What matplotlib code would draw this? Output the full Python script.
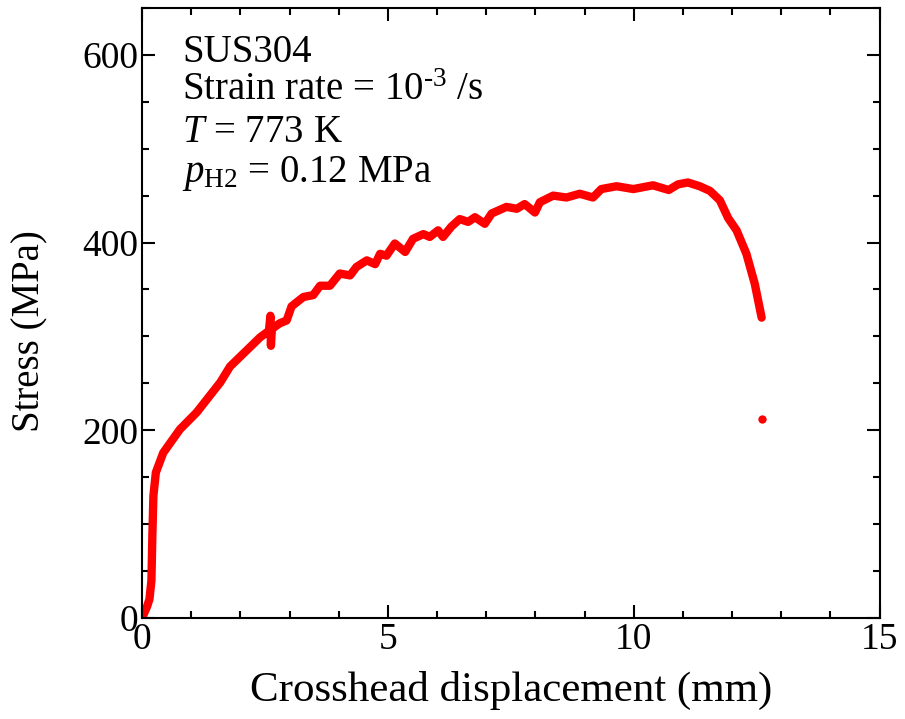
import matplotlib

matplotlib.use("Agg")
import matplotlib.pyplot as plt  # noqa: E402
from matplotlib.ticker import MultipleLocator  # noqa: E402

# stress-displacement readings (mm, MPa)
disp_mm = [0.00, 0.10, 0.15, 0.19, 0.21, 0.23, 0.28, 0.43, 0.77, 1.11, 1.59,
           1.79, 2.40, 2.58, 2.61, 2.62, 2.64, 2.80, 2.94, 3.04, 3.28, 3.48,
           3.62, 3.82, 4.02, 4.23, 4.36, 4.57, 4.74, 4.84, 4.97, 5.14, 5.35,
           5.51, 5.72, 5.85, 6.02, 6.12, 6.29, 6.46, 6.63, 6.77, 6.97, 7.11,
           7.41, 7.62, 7.78, 7.99, 8.09, 8.36, 8.63, 8.90, 9.17, 9.34, 9.65,
           9.99, 10.39, 10.71, 10.90, 11.10, 11.34, 11.55, 11.75, 11.92, 12.09,
           12.29, 12.46, 12.60]
stress_mpa = [0, 12, 20, 40, 90, 130, 155, 176, 201, 219, 251,
              268, 299, 306, 322, 290, 308, 314, 317, 332, 342, 344,
              354, 354, 367, 365, 374, 381, 377, 388, 386, 399, 390,
              404, 409, 406, 413, 406, 417, 425, 422, 427, 420, 431,
              438, 436, 441, 432, 443, 450, 448, 452, 448, 457, 460,
              457, 461, 456, 462, 464, 460, 455, 445, 426, 413,
              388, 356, 320]
# last stray point after fracture
stray_disp = [12.61]
stray_stress = [212]

info_lines = [
    "SUS304",
    r"Strain rate = 10$^{\text{-3}}$ /s",
    r"$T$ = 773 K",
    r"$p_{\rm H2}$ = 0.12 MPa",
]

plt.rcParams["font.family"] = "Liberation Serif"
plt.rcParams["mathtext.fontset"] = "custom"
plt.rcParams["mathtext.rm"] = "Liberation Serif"
plt.rcParams["mathtext.it"] = "Liberation Serif:italic"

fig = plt.figure(figsize=(9.05, 7.19), dpi=100)
ax = fig.add_axes([0.157, 0.1405, 0.815, 0.8485])

ax.plot(disp_mm, stress_mpa, color="red", linewidth=6.0,
        solid_capstyle="round", solid_joinstyle="round")
ax.plot(stray_disp, stray_stress, "o", color="red", markersize=6, markeredgewidth=0)

ax.set_xlim(0, 15)
ax.set_ylim(0, 650)
ax.xaxis.set_major_locator(MultipleLocator(5))
ax.xaxis.set_minor_locator(MultipleLocator(1))
ax.yaxis.set_major_locator(MultipleLocator(200))
ax.yaxis.set_minor_locator(MultipleLocator(50))
ax.tick_params(which="both", direction="in", top=True, right=True,
               width=1.5, labelsize=27, pad=3)
ax.tick_params(which="major", length=9.5)
ax.tick_params(which="minor", length=5)
for spine in ax.spines.values():
    spine.set_linewidth(1.5)

ax.set_xlabel("Crosshead displacement (mm)", fontsize=31, labelpad=10)
ax.set_ylabel("Stress (MPa)", fontsize=28, va="center")
ax.yaxis.set_label_coords(-0.152, 0.47)

baselines = [0.911, 0.849, 0.780, 0.715]
for line, yb in zip(info_lines, baselines):
    ax.text(0.054, yb, line, transform=ax.transAxes, fontsize=28, va="baseline")

fig.savefig("out.png", dpi=100)
